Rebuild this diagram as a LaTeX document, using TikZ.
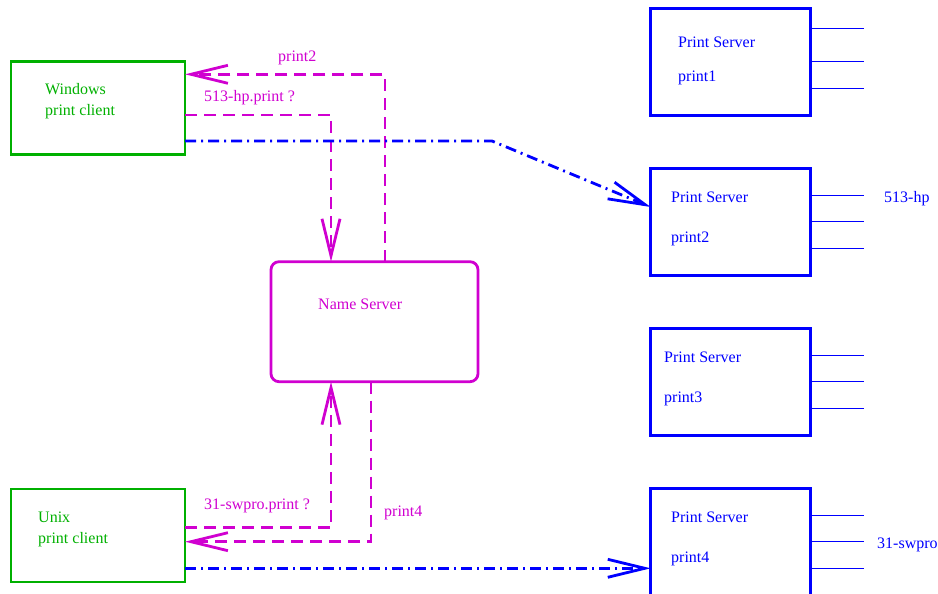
\documentclass[tikz,border=0pt]{standalone}
\usepackage{fontspec}
\setmainfont{Liberation Serif}
\usetikzlibrary{arrows.meta,calc}
\definecolor{cgreen}{RGB}{0,176,0}
\definecolor{cmag}{RGB}{208,0,208}
\definecolor{cblue}{RGB}{0,0,255}
\tikzset{
  client/.style={draw=cgreen, line width=2.8pt, minimum width=174pt, minimum height=93pt, anchor=north west, inner sep=0pt, outer sep=0pt},
  psbox/.style={draw=cblue, line width=2.8pt, minimum width=160pt, minimum height=107pt, anchor=north west, inner sep=0pt, outer sep=0pt},
  nsbox/.style={draw=cmag, line width=2.8pt, rounded corners=8pt, minimum width=207pt, minimum height=120pt, anchor=north west, inner sep=0pt, outer sep=0pt},
  gtxt/.style={text=cgreen, anchor=base west, inner sep=0pt},
  mtxt/.style={text=cmag, anchor=base west, inner sep=0pt},
  btxt/.style={text=cblue, anchor=base west, inner sep=0pt},
  magline/.style={draw=cmag, line width=2.8pt, dash pattern=on 12pt off 7pt},
  bluedd/.style={draw=cblue, line width=2.8pt, dash pattern=on 11pt off 5pt on 2pt off 5pt},
  stub/.style={draw=cblue, line width=0.9pt},
  barb/.style={-{Straight Barb[length=37pt,width=18pt]}},
}
\begin{document}
\begin{tikzpicture}[x=1pt,y=-1pt,font=\fontsize{16}{19}\selectfont]
\useasboundingbox (0,0) rectangle (938,594);
% clients
\node[client] (win) at (11,61.7) {};
\node[client] (unix) at (11,489) {};
\node[gtxt] (wint1) at (45,95) {Windows};
\node[gtxt] (wint2) at (45,116) {print client};
\node[gtxt] (unixt1) at (38,522) {Unix};
\node[gtxt] (unixt2) at (38,543) {print client};
% name server
\node[nsbox] (ns) at (271,261.7) {};
\node[mtxt] (nst) at (318,309) {Name Server};
% print servers
\node[psbox] (ps1) at (650.7,8.3) {};
\node[psbox] (ps2) at (650.7,168.3) {};
\node[psbox] (ps3) at (650.7,328.3) {};
\node[psbox, minimum height=112pt] (ps4) at (650.7,488.3) {};
\node[btxt] (ps1a) at (678,48) {Print Server};
\node[btxt] (ps1b) at (678,82) {print1};
\node[btxt] (ps2a) at (671,202) {Print Server};
\node[btxt] (ps2b) at (671,242) {print2};
\node[btxt] (ps3a) at (664,362) {Print Server};
\node[btxt] (ps3b) at (664,402) {print3};
\node[btxt] (ps4a) at (671,522) {Print Server};
\node[btxt] (ps4b) at (671,562) {print4};
\node[btxt] (lbl513) at (884,202) {513-hp};
\node[btxt] (lbl31) at (877,548) {31-swpro};
% stubs
\foreach \p/\a/\b/\c in {ps1/20/53.4/80, ps2/26.7/53.4/80, ps3/26.7/53.4/80, ps4/26.7/53.4/80}{
  \draw[stub] ([yshift=-\a pt]\p.north east) -- ++(53,0);
  \draw[stub] ([yshift=-\b pt]\p.north east) -- ++(53,0);
  \draw[stub] ([yshift=-\c pt]\p.north east) -- ++(53,0);
}
% magenta connectors
\draw[magline, barb] ([xshift=114pt]ns.north west) |- ([yshift=-12.6pt]win.north east);
\node[mtxt] (l1) at (278,62) {print2};
\draw[magline, barb] ([yshift=-53.3pt]win.north east) -| ([xshift=60pt]ns.north west);
\node[mtxt] (l2) at (204,102) {513-hp.print ?};
\draw[magline, barb] ([yshift=-38.7pt]unix.north east) -| ([xshift=60pt]ns.south west);
\node[mtxt] (l3) at (204,509) {31-swpro.print ?};
\draw[magline, barb] ([xshift=100pt]ns.south west) |- ([yshift=-52.7pt]unix.north east);
\node[mtxt] (l4) at (384,516) {print4};
% blue connectors
\coordinate (bend) at (492,141);
\draw[bluedd, barb] ([yshift=-79.3pt]win.north east) -- (bend) -- ([yshift=-38.7pt]ps2.north west);
\draw[bluedd, barb] ([yshift=-79.3pt]unix.north east) -- ([yshift=-80pt]ps4.north west);
\end{tikzpicture}
\end{document}
